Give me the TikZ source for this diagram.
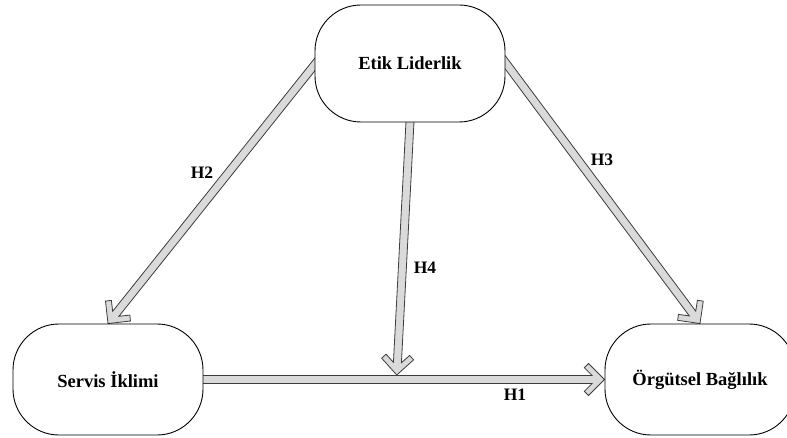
\documentclass[tikz,border=0pt]{standalone}
\usepackage{fontspec}
\setmainfont{Liberation Serif}
\usetikzlibrary{calc,backgrounds}
\definecolor{arrfill}{RGB}{218,218,218}
\definecolor{arrline}{RGB}{60,60,60}
\tikzset{
  boxnode/.style={draw=black, line width=0.9pt, fill=white, rounded corners=46pt,
    inner sep=0pt, minimum width=190pt, font=\bfseries\fontsize{18.5}{21}\selectfont},
  hlabel/.style={font=\bfseries\fontsize{17.5}{20}\selectfont, inner sep=0pt},
  blockarr/.style={draw=arrline, fill=arrfill, line width=0.8pt, line join=miter}
}
\newcommand{\blockarrow}[2]{%
  \path let \p1=(#1), \p2=(#2) in \pgfextra{%
    \pgfmathsetmacro\BAang{atan2(\y2-\y1,\x2-\x1)}%
    \pgfmathsetmacro\BAlen{veclen(\x2-\x1,\y2-\y1)}%
    \pgfmathsetmacro\BAtx{\x2}%
    \pgfmathsetmacro\BAty{\y2}%
    \xdef\BAAng{\BAang}\xdef\BALen{\BAlen}%
    \xdef\BATx{\BAtx}\xdef\BATy{\BAty}};
  \begin{pgfonlayer}{background}
  \draw[blockarr, shift={(\BATx pt,\BATy pt)}, rotate=\BAAng]
    (-\BALen pt,4pt) -- (-12.5pt,4pt) -- (-20.2pt,11.8pt) -- (-16pt,16pt)
    -- (0pt,0pt) -- (-16pt,-16pt) -- (-20.2pt,-11.8pt) -- (-12.5pt,-4pt)
    -- (-\BALen pt,-4pt) -- cycle;
  \end{pgfonlayer}
}
\begin{document}
\begin{tikzpicture}[x=1pt,y=-1pt]
\clip (0,0) rectangle (787,438);
% nodes
\node[boxnode, minimum height=117pt] (etik) at (410,63.5) {Etik Liderlik};
\node[boxnode, minimum height=111pt] (servis) at (108,379.5) {Servis İklimi};
\node[boxnode, minimum height=111pt] (org) at (700,379.5) {Örgütsel Bağlılık};
% connector ends inside / on the nodes
\coordinate (h2s) at (320,58);
\coordinate (h3s) at (502,58);
\coordinate (h4s) at (410.5,112);
\coordinate (h1s) at (195,379.5);
\coordinate (h4t) at ([yshift=4.5pt]$(servis.east)!0.482!(org.west)$);
% connectors
\blockarrow{h1s}{org.west}
\blockarrow{h2s}{servis.north}
\blockarrow{h3s}{org.north}
\blockarrow{h4s}{h4t}
% labels
\node[hlabel] (l2) at (202,173) {H2};
\node[hlabel] (l3) at (602,160) {H3};
\node[hlabel] (l4) at (425,268) {H4};
\node[hlabel] (l1) at (515,395) {H1};
\end{tikzpicture}
\end{document}
